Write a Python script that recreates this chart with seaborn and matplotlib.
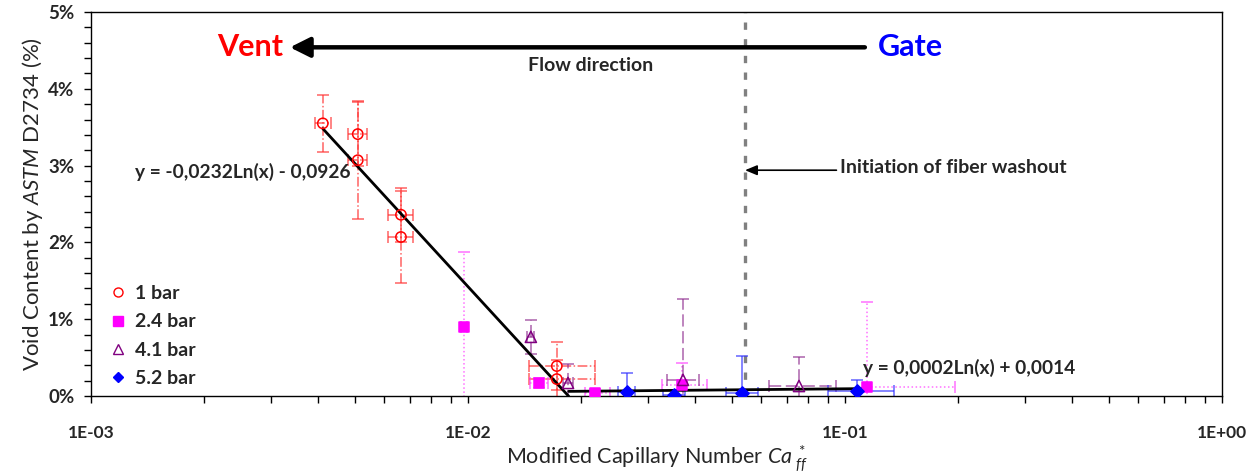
import numpy as np
import pandas as pd
import matplotlib
matplotlib.use("Agg")
import matplotlib.pyplot as plt
import matplotlib.ticker as mticker
import seaborn as sns

# ---------------- data ----------------
# 1 bar
x_1bar = [0.00412, 0.0051, 0.0051, 0.00664, 0.00664, 0.0172, 0.0172]
y_1bar = [3.55, 3.41, 3.07, 2.36, 2.07, 0.39, 0.22]
yerr_1bar = [0.37, 0.42, 0.77, 0.35, 0.60, 0.31, 0.25]
xerr_lo_1bar = [0.0002, 0.0003, 0.0003, 0.0005, 0.0005, 0.0027, 0.0027]
xerr_hi_1bar = [0.0002, 0.0003, 0.0003, 0.0005, 0.0005, 0.0045, 0.0045]
# 2.4 bar
x_24bar = [0.00976, 0.0154, 0.0217, 0.0370, 0.1143]
y_24bar = [0.90, 0.17, 0.04, 0.14, 0.12]
yerr_24bar = [0.97, 0.06, 0.05, 0.29, 1.10]
xerr_lo_24bar = [0.0002, 0.0008, 0.0013, 0.0043, 0.0]
xerr_hi_24bar = [0.0002, 0.0009, 0.0021, 0.0061, 0.082]
# 4.1 bar
x_41bar = [0.01468, 0.01842, 0.03718, 0.0755]
y_41bar = [0.77, 0.17, 0.21, 0.13]
yerr_41bar = [0.22, 0.25, 1.05, 0.38]
xerr_lo_41bar = [0.0003, 0.0006, 0.0035, 0.0126]
xerr_hi_41bar = [0.0003, 0.0006, 0.0039, 0.0192]
# 5.2 bar
x_52bar = [0.0264, 0.0352, 0.0533, 0.1077]
y_52bar = [0.05, 0.01, 0.04, 0.06]
yerr_52bar = [0.25, 0.0, 0.48, 0.15]
xerr_lo_52bar = [0.0014, 0.0023, 0.0050, 0.0176]
xerr_hi_52bar = [0.0013, 0.0024, 0.0055, 0.0272]

series_names = ["1 bar", "2.4 bar", "4.1 bar", "5.2 bar"]

# trend lines y = a*ln(x) + b (fraction)
fit1_a, fit1_b = -0.0232, -0.0926
fit1_xrange = [0.00412, 0.0185]
fit2_a, fit2_b = 0.0002, 0.0014
fit2_xrange = [0.0185, 0.1143]

washout_x = 0.0543

x_ticks = [1e-3, 1e-2, 1e-1, 1e0]
y_ticks = [0, 1, 2, 3, 4, 5]

# ---------------- style ----------------
sns.set_theme(style="ticks")
plt.rcParams["font.family"] = ["Lato", "DejaVu Sans"]
plt.rcParams["mathtext.fontset"] = "custom"
plt.rcParams["mathtext.rm"] = "Lato"
plt.rcParams["mathtext.it"] = "Lato:italic"
plt.rcParams["mathtext.bf"] = "Lato:bold"

fig = plt.figure(figsize=(12.56, 4.73), dpi=100)
ax = fig.add_axes([91 / 1256, 1 - 396 / 473, (1222 - 91) / 1256, (396 - 12) / 473])

styles = {
    "1 bar": dict(x=x_1bar, y=y_1bar, yerr=yerr_1bar, xlo=xerr_lo_1bar, xhi=xerr_hi_1bar,
                  color="#FF0000", ecolor="#FF3030", ls="-.", marker="o", fill=False, s=55),
    "2.4 bar": dict(x=x_24bar, y=y_24bar, yerr=yerr_24bar, xlo=xerr_lo_24bar, xhi=xerr_hi_24bar,
                    color="#FF00FF", ecolor="#FF40FF", ls=":", marker="s", fill=True, s=60),
    "4.1 bar": dict(x=x_41bar, y=y_41bar, yerr=yerr_41bar, xlo=xerr_lo_41bar, xhi=xerr_hi_41bar,
                    color="#800080", ecolor="#903090", ls=(0, (8, 3)), marker="^", fill=False, s=65),
    "5.2 bar": dict(x=x_52bar, y=y_52bar, yerr=yerr_52bar, xlo=xerr_lo_52bar, xhi=xerr_hi_52bar,
                    color="#0000FF", ecolor="#3030FF", ls="-", marker="D", fill=True, s=45),
}

# error bars
for name in series_names:
    st = styles[name]
    eb = ax.errorbar(st["x"], st["y"], yerr=st["yerr"], xerr=[st["xlo"], st["xhi"]],
                     fmt="none", ecolor=st["ecolor"], elinewidth=1.1, capsize=4,
                     capthick=1.1, alpha=0.75, zorder=2)
    for lc in eb[2]:
        lc.set_linestyle(st["ls"])

# trend lines
for (a, b, xr) in [(fit1_a, fit1_b, fit1_xrange), (fit2_a, fit2_b, fit2_xrange)]:
    xs = np.geomspace(xr[0], xr[1], 50)
    df_fit = pd.DataFrame({"x": xs, "y": 100 * (a * np.log(xs) + b)})
    sns.lineplot(data=df_fit, x="x", y="y", color="black", lw=2, ax=ax, zorder=3,
                 estimator=None, sort=False)

# markers
handles = []
for name in series_names:
    st = styles[name]
    df = pd.DataFrame({"x": st["x"], "y": st["y"]})
    fc = st["color"] if st["fill"] else "none"
    sns.scatterplot(data=df, x="x", y="y", marker=st["marker"], s=st["s"],
                    facecolor=fc, edgecolor=st["color"], linewidth=1.1,
                    ax=ax, zorder=4, legend=False)
    handles.append(plt.Line2D([], [], ls="none", marker=st["marker"],
                              markersize=6.5 if st["marker"] != "D" else 5.5,
                              markerfacecolor=fc, markeredgecolor=st["color"],
                              markeredgewidth=1.0, label=name))

# washout line
ax.axvline(washout_x, color="#808080", lw=2.4, ls=(0, (2.2, 2.8)), zorder=1)

ax.set_xscale("log")
ax.set_xlim(x_ticks[0], x_ticks[-1])
ax.set_ylim(y_ticks[0], y_ticks[-1])
ax.set_xticks(x_ticks)
ax.xaxis.set_major_formatter(mticker.FuncFormatter(lambda v, p: format(v, ".0E")))
ax.xaxis.set_minor_locator(mticker.LogLocator(base=10, subs=np.arange(2, 10)))
ax.xaxis.set_minor_formatter(mticker.NullFormatter())
ax.set_yticks(y_ticks)
ax.yaxis.set_major_formatter(mticker.FuncFormatter(lambda v, p: f"{v:.0f}%"))
ax.yaxis.set_minor_locator(mticker.MultipleLocator(0.2))

ax.tick_params(axis="both", which="both", direction="out", length=5, width=1, color="black")
ax.tick_params(axis="x", which="major", pad=16, labelsize=12.5)
ax.tick_params(axis="y", which="major", pad=7, labelsize=13.5)
for lab in ax.get_xticklabels() + ax.get_yticklabels():
    lab.set_fontweight("bold")
for sp in ax.spines.values():
    sp.set_visible(True)
    sp.set_color("black")
    sp.set_linewidth(1)

ax.set_xlabel(r"Modified Capillary Number $\mathit{Ca}^{\ *}_{\ ff}$", fontsize=15.5, labelpad=1)
ax.set_ylabel(r"Void Content by $\mathit{ASTM}$ D2734 (%)", fontsize=16, labelpad=2)

# annotations
ax.text(0.00264, 4.54, "Vent", color="#FF0000", fontsize=22, fontweight="bold",
        ha="center", va="center")
ax.text(0.1487, 4.54, "Gate", color="#0000FF", fontsize=22, fontweight="bold",
        ha="center", va="center")
ax.annotate("", xy=(0.00337, 4.54), xytext=(0.1129, 4.54),
            arrowprops=dict(arrowstyle="-|>,head_length=1.0,head_width=0.5", lw=3.2,
                            color="black", shrinkA=0, shrinkB=0))
ax.text(0.0211, 4.30, "Flow direction", fontsize=14, fontweight="bold",
        ha="center", va="center")
ax.annotate("", xy=(washout_x, 2.94), xytext=(0.0949, 2.94),
            arrowprops=dict(arrowstyle="-|>,head_length=0.6,head_width=0.25", lw=1.2,
                            color="black", shrinkA=0, shrinkB=0))
ax.text(0.0970, 2.97, "Initiation of fiber washout", fontsize=14, fontweight="bold",
        ha="left", va="center")
ax.text(0.00131, 2.92, "y = -0,0232Ln(x) - 0,0926", fontsize=13.8, fontweight="bold",
        ha="left", va="center")
ax.text(0.1117, 0.365, "y = 0,0002Ln(x) + 0,0014", fontsize=13.8, fontweight="bold",
        ha="left", va="center")

leg = ax.legend(handles=handles, loc="lower left", bbox_to_anchor=(-0.002, -0.022),
                frameon=False, prop={"weight": "bold", "size": 14},
                handletextpad=0.3, labelspacing=0.58, handlelength=1.2)

fig.savefig("out.png", dpi=100)
